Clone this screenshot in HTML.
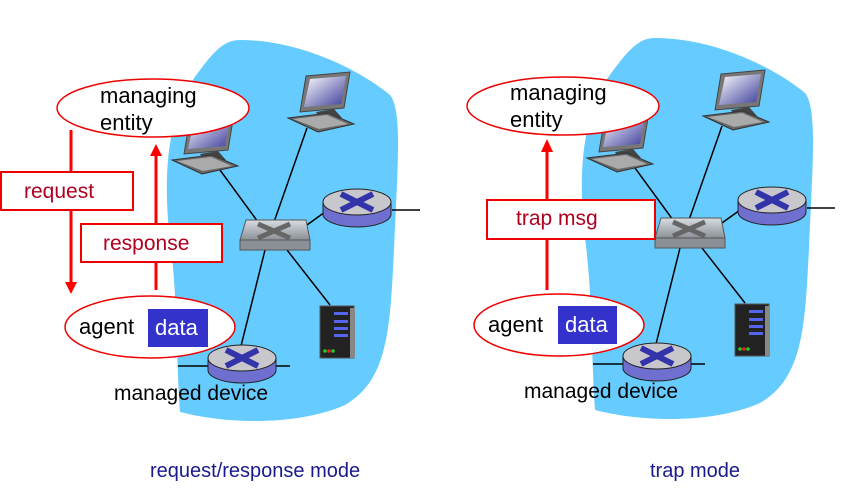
<!DOCTYPE html>
<html><head><meta charset="utf-8"><style>
html,body{margin:0;padding:0;background:#fff;}
svg{display:block;font-family:"Liberation Sans",Arial,sans-serif;}
</style></head><body>
<svg width="867" height="504" viewBox="0 0 867 504" xmlns="http://www.w3.org/2000/svg">
<defs>
<linearGradient id="scr" x1="0" y1="0" x2="1" y2="1"><stop offset="0" stop-color="#ffffff"/><stop offset="1" stop-color="#3a3a9a"/></linearGradient>
<linearGradient id="sw" x1="0" y1="0" x2="0" y2="1"><stop offset="0" stop-color="#d8dde2"/><stop offset="1" stop-color="#8a9096"/></linearGradient>
<g id="router">
  <path d="M-34,0 L-34,12 A34,13 0 0 0 34,12 L34,0 Z" fill="#6f6fd0" stroke="#222" stroke-width="1"/>
  <ellipse cx="0" cy="0" rx="34" ry="13" fill="#c8c8cc" stroke="#222" stroke-width="1"/>
  <path d="M-16,-8 L16,8 M16,-8 L-16,8" stroke="#3333aa" stroke-width="6"/>
</g>
<g id="pc">
  <polygon points="18,0 62,-4 56,32 12,36" fill="#777" stroke="#444"/>
  <polygon points="22,3 58,0 53,28 16,31" fill="url(#scr)"/>
  <polygon points="28,36 46,33 54,42 32,44" fill="#444"/>
  <polygon points="0,42 40,37 66,48 30,56" fill="#666" stroke="#333"/>
  <polygon points="5,43 39,39 60,48 31,53" fill="#aaa"/>
</g>
<g id="net">
  <path d="M240,40 C300,40 360,70 390,95 C402,110 398,160 394,250 C390,330 388,380 345,405 C300,425 230,425 180,412 C176,360 178,300 170,240 C162,170 168,110 200,70 C215,50 225,40 240,40 Z" fill="#66ccff"/>
  <g stroke="#000" stroke-width="1.5">
    <line x1="220" y1="170" x2="258" y2="222"/>
    <line x1="307" y1="128" x2="274" y2="222"/>
    <line x1="300" y1="230" x2="325" y2="212"/>
    <line x1="392" y1="210" x2="420" y2="210"/>
    <line x1="287" y1="250" x2="330" y2="305"/>
    <line x1="265" y1="250" x2="240" y2="350"/>
    <line x1="178" y1="366" x2="290" y2="366"/>
  </g>
  <use href="#pc" transform="translate(172,118)"/>
  <use href="#pc" transform="translate(288,76)"/>
  <polygon points="246,220 306,220 310,240 240,240" fill="url(#sw)" stroke="#555"/>
  <rect x="240" y="240" width="70" height="10" fill="#8a9096" stroke="#555"/>
  <path d="M258,224 L290,238 M290,224 L258,238" stroke="#666" stroke-width="5"/>
  <use href="#router" transform="translate(357,202)"/>
  <use href="#router" transform="translate(242,358)"/>
  <rect x="320" y="306" width="34" height="52" fill="#222" stroke="#555"/>
  <rect x="350" y="308" width="5" height="50" fill="#888"/>
  <g fill="#5566ee"><rect x="334" y="312" width="14" height="3"/><rect x="334" y="320" width="14" height="3"/><rect x="334" y="327" width="14" height="3"/><rect x="334" y="334" width="14" height="3"/></g>
  <circle cx="325" cy="351" r="1.8" fill="#2c2"/><circle cx="329" cy="351" r="1.8" fill="#e22"/><circle cx="333" cy="351" r="1.8" fill="#2c2"/>
</g>
</defs>

<use href="#net"/>
<use href="#net" transform="translate(415,-2)"/>

<g font-size="22">
<ellipse cx="153" cy="108" rx="96" ry="29" fill="#fff" stroke="#e00" stroke-width="1.5"/>
<text x="100" y="103" fill="#000">managing</text>
<text x="100" y="130" fill="#000">entity</text>
<line x1="71" y1="130" x2="71" y2="282" stroke="#f00" stroke-width="3"/>
<polygon points="65,282 77,282 71,294" fill="#f00"/>
<line x1="156" y1="290" x2="156" y2="156" stroke="#f00" stroke-width="3"/>
<polygon points="150,156 162,156 156,144" fill="#f00"/>
<rect x="1" y="172" width="132" height="38" fill="#fff" stroke="#e00" stroke-width="2"/>
<text x="24" y="198" fill="#b00020" font-size="21">request</text>
<rect x="81" y="224" width="141" height="38" fill="#fff" stroke="#e00" stroke-width="2"/>
<text x="103" y="250" fill="#b00020" font-size="21">response</text>
<ellipse cx="150" cy="327" rx="85" ry="31" fill="#fff" stroke="#e00" stroke-width="1.5"/>
<text x="79" y="334" fill="#000">agent</text>
<rect x="148" y="309" width="60" height="38" fill="#3333cc"/>
<text x="155" y="335" fill="#fff">data</text>
<text x="114" y="400" fill="#000" font-size="21">managed device</text>
<text x="150" y="477" fill="#1a1a8c" font-size="20">request/response mode</text>

<ellipse cx="563" cy="106" rx="96" ry="29" fill="#fff" stroke="#e00" stroke-width="1.5"/>
<text x="510" y="100" fill="#000">managing</text>
<text x="510" y="127" fill="#000">entity</text>
<line x1="547" y1="290" x2="547" y2="152" stroke="#f00" stroke-width="3"/>
<polygon points="541,152 553,152 547,139" fill="#f00"/>
<rect x="487" y="200" width="168" height="39" fill="#fff" stroke="#e00" stroke-width="2"/>
<text x="516" y="225" fill="#b00020" font-size="21">trap msg</text>
<ellipse cx="559" cy="325" rx="85" ry="31" fill="#fff" stroke="#e00" stroke-width="1.5"/>
<text x="488" y="332" fill="#000">agent</text>
<rect x="558" y="306" width="59" height="38" fill="#3333cc"/>
<text x="565" y="332" fill="#fff">data</text>
<text x="524" y="398" fill="#000" font-size="21">managed device</text>
<text x="650" y="477" fill="#1a1a8c" font-size="20">trap mode</text>
</g>
</svg>
</body></html>
